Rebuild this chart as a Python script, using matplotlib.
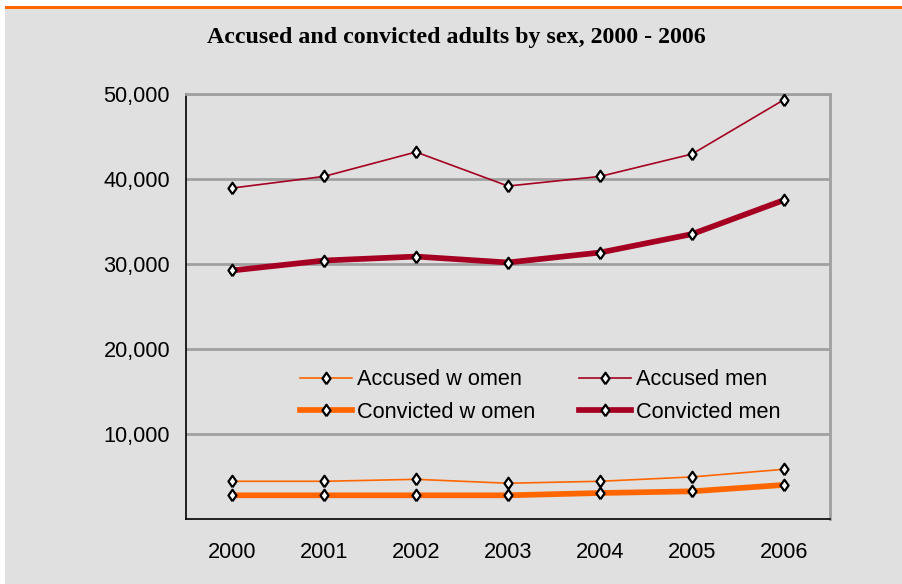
import matplotlib
matplotlib.use("Agg")
import matplotlib.pyplot as plt
from matplotlib.patches import Rectangle
from matplotlib.lines import Line2D

# data
years = ["2000", "2001", "2002", "2003", "2004", "2005", "2006"]
accused_women = [4470, 4470, 4700, 4240, 4470, 4980, 5880]
accused_men = [38940, 40310, 43180, 39180, 40310, 42940, 49330]
convicted_women = [2820, 2820, 2820, 2820, 3090, 3290, 4040]
convicted_men = [29250, 30420, 30890, 30190, 31360, 33530, 37530]
yticks = [10000, 20000, 30000, 40000, 50000]

ORANGE = "#FF6600"
RED = "#A50021"
BG = "#E0E0E0"
FS = 15.7

W, H = 903, 584
fig = plt.figure(figsize=(W / 100, H / 100), dpi=100, facecolor="white")

# gray panel and orange top rule (behind the axes)
fig.patches.append(Rectangle((5 / W, 0), 1, (H - 9) / H, transform=fig.transFigure,
                             facecolor=BG, edgecolor="none", zorder=-2))
fig.patches.append(Rectangle((5 / W, (H - 9) / H), 1, 3 / H, transform=fig.transFigure,
                             facecolor=ORANGE, edgecolor="none", zorder=-2))

ax = fig.add_axes([186 / W, 1 - 519.3 / H, 644 / W, 425.3 / H])
ax.set_facecolor(BG)

x = list(range(len(years)))
diamond = [(0, -1), (0.7, 0), (0, 1), (-0.7, 0), (0, -1)]
mk = dict(marker=diamond, markersize=8.3, markerfacecolor="white",
          markeredgecolor="black", markeredgewidth=1.6)

ax.plot(x, convicted_women, color=ORANGE, lw=4.1, zorder=3, **mk)
ax.plot(x, convicted_men, color=RED, lw=4.1, zorder=3, **mk)
ax.plot(x, accused_women, color=ORANGE, lw=1.2, zorder=4, **mk)
ax.plot(x, accused_men, color=RED, lw=1.2, zorder=4, **mk)

ax.set_xlim(-0.5, len(years) - 0.5)
ax.set_ylim(0, 50000)
ax.set_xticks(x)
ax.set_xticklabels(years)
ax.set_yticks(yticks)
ax.set_yticklabels([f"{v:,}" for v in yticks])
ax.tick_params(length=0, labelsize=FS)
ax.tick_params(axis="y", pad=11.5)
ax.tick_params(axis="x", pad=16.5)
for lab in ax.get_xticklabels() + ax.get_yticklabels():
    lab.set_fontfamily("Liberation Sans")

ax.grid(axis="y", color="#A0A0A0", lw=2)
ax.set_axisbelow(True)
ax.spines["left"].set_color("black")
ax.spines["bottom"].set_color("black")
ax.spines["left"].set_linewidth(1.2)
ax.spines["bottom"].set_linewidth(1.2)
ax.spines["top"].set_color("#A0A0A0")
ax.spines["right"].set_color("#A0A0A0")
ax.spines["top"].set_linewidth(2)
ax.spines["right"].set_linewidth(2)

handles = [
    Line2D([], [], color=ORANGE, lw=1.2, **mk),
    Line2D([], [], color=ORANGE, lw=4.1, **mk),
    Line2D([], [], color=RED, lw=1.2, **mk),
    Line2D([], [], color=RED, lw=4.1, **mk),
]
labels = ["Accused w omen", "Convicted w omen", "Accused men", "Convicted men"]
leg = ax.legend(handles, labels, ncol=2, loc="center", bbox_to_anchor=(0.550, 0.290),
                prop={"family": "Liberation Sans", "size": FS}, frameon=False,
                handlelength=2.4, handletextpad=0.22, columnspacing=2.0,
                labelspacing=0.52, borderpad=0.2)

fig.text(456 / W, 1 - 37 / H, "Accused and convicted adults by sex, 2000 - 2006",
         ha="center", va="center", fontsize=17.2, fontweight="bold",
         family="Liberation Serif")

fig.savefig("out.png", dpi=100, facecolor=fig.get_facecolor())
